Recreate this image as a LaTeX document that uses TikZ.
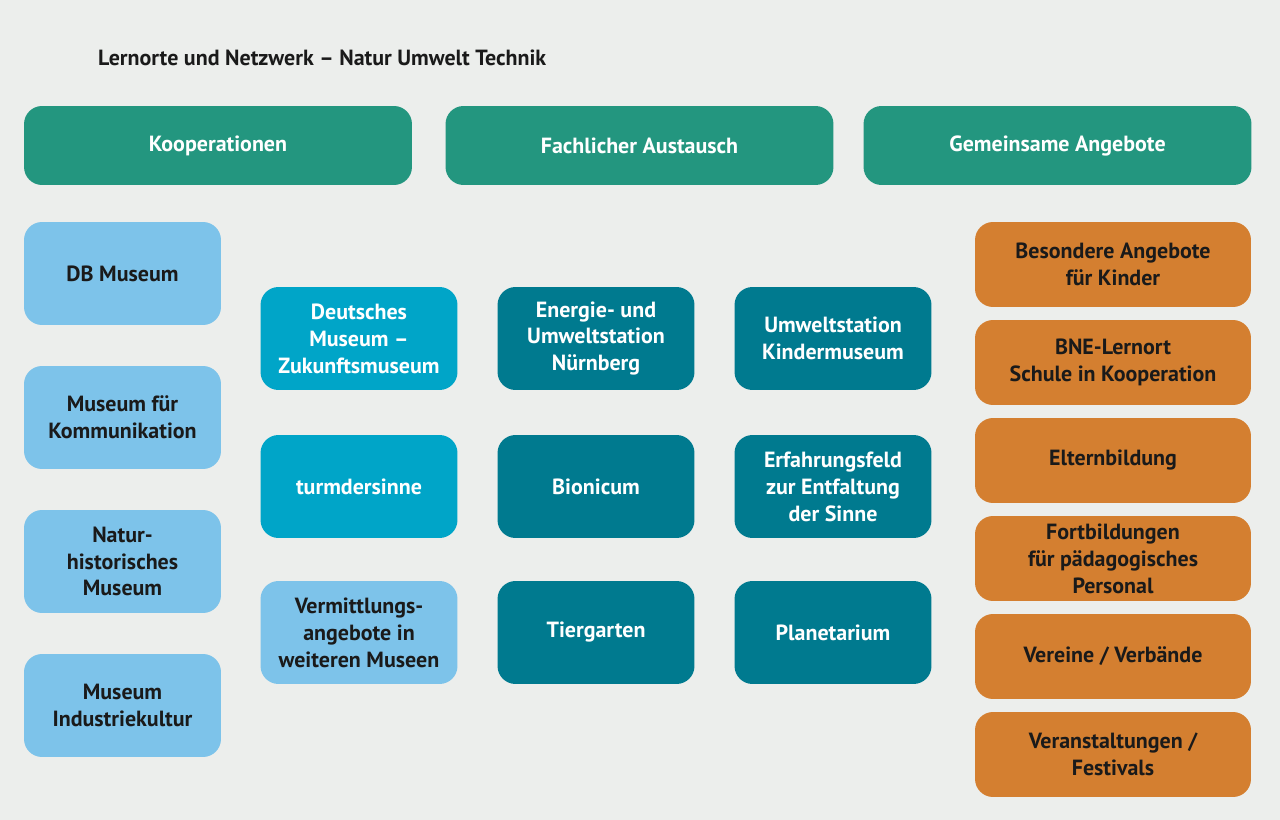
\documentclass[tikz,border=0pt]{standalone}
\usepackage{fontspec}
\setmainfont{PT Sans}
\usetikzlibrary{positioning}
\definecolor{bgc}{HTML}{ECEEEC}
\definecolor{headc}{HTML}{23967F}
\definecolor{lightc}{HTML}{7DC3EA}
\definecolor{cyanc}{HTML}{00A5C8}
\definecolor{tealc}{HTML}{007A8F}
\definecolor{orangec}{HTML}{D47F30}
\definecolor{textc}{HTML}{1A1A1A}
\begin{document}
\begin{tikzpicture}[x=0.02cm,y=-0.02cm,
  box/.style={rectangle, rounded corners=0.36cm, align=center, inner sep=0pt,
    font=\bfseries\fontsize{12.5}{15.3}\selectfont},
  head/.style={box, fill=headc, text=white, minimum width=7.76cm, minimum height=1.58cm},
  place/.style={box, minimum width=3.94cm, minimum height=2.06cm},
  offer/.style={box, fill=orangec, text=textc, minimum width=5.52cm, minimum height=1.7cm}]
\fill[bgc] (0,0) rectangle (1280,820);

% Title
\node[anchor=west, font=\bfseries\fontsize{12.5}{15}\selectfont, text=textc] (title) at (92,58) {Lernorte und Netzwerk -- Natur Umwelt Technik};

% Headers
\node[head] (koop) at (218,145.5) {Kooperationen};
\node[head] (fach) at (639.5,145.5) {Fachlicher Austausch};
\node[head] (gemein) at (1057.5,145.5) {Gemeinsame Angebote};

% Left column
\node[place, fill=lightc, text=textc] (db) at (122.5,273.5) {DB Museum};
\node[place, fill=lightc, text=textc] (kommunikation) at (122.5,417.5) {Museum für\\Kommunikation};
\node[place, fill=lightc, text=textc] (natur) at (122.5,561.5) {Natur-\\historisches\\Museum};
\node[place, fill=lightc, text=textc] (industrie) at (122.5,705.5) {Museum\\Industriekultur};

% Second column
\node[place, fill=cyanc, text=white] (deutsches) at (359,338.5) {Deutsches\\Museum --\\Zukunftsmuseum};
\node[place, fill=cyanc, text=white] (turm) at (359,486.5) {turmdersinne};
\node[place, fill=lightc, text=textc] (vermittlung) at (359,632.5) {Vermittlungs-\\angebote in\\weiteren Museen};

% Third column
\node[place, fill=tealc, text=white] (energie) at (596,338.5) {Energie- und\\Umweltstation\\Nürnberg};
\node[place, fill=tealc, text=white] (bionicum) at (596,486.5) {Bionicum};
\node[place, fill=tealc, text=white] (tiergarten) at (596,632.5) {Tiergarten};

% Fourth column
\node[place, fill=tealc, text=white] (kinder) at (833,338.5) {Umweltstation\\Kindermuseum};
\node[place, fill=tealc, text=white] (erfahrung) at (833,486.5) {Erfahrungsfeld\\zur Entfaltung\\der Sinne};
\node[place, fill=tealc, text=white] (planetarium) at (833,632.5) {Planetarium};

% Offers
\node[offer] (besondere) at (1113,264.5) {Besondere Angebote\\für Kinder};
\node[offer] (bne) at (1113,362.5) {BNE-Lernort\\Schule in Kooperation};
\node[offer] (eltern) at (1113,460.5) {Elternbildung};
\node[offer] (fortbildung) at (1113,558.5) {Fortbildungen\\für pädagogisches\\Personal};
\node[offer] (vereine) at (1113,656.5) {Vereine / Verbände};
\node[offer] (feste) at (1113,754.5) {Veranstaltungen /\\Festivals};
\end{tikzpicture}
\end{document}
